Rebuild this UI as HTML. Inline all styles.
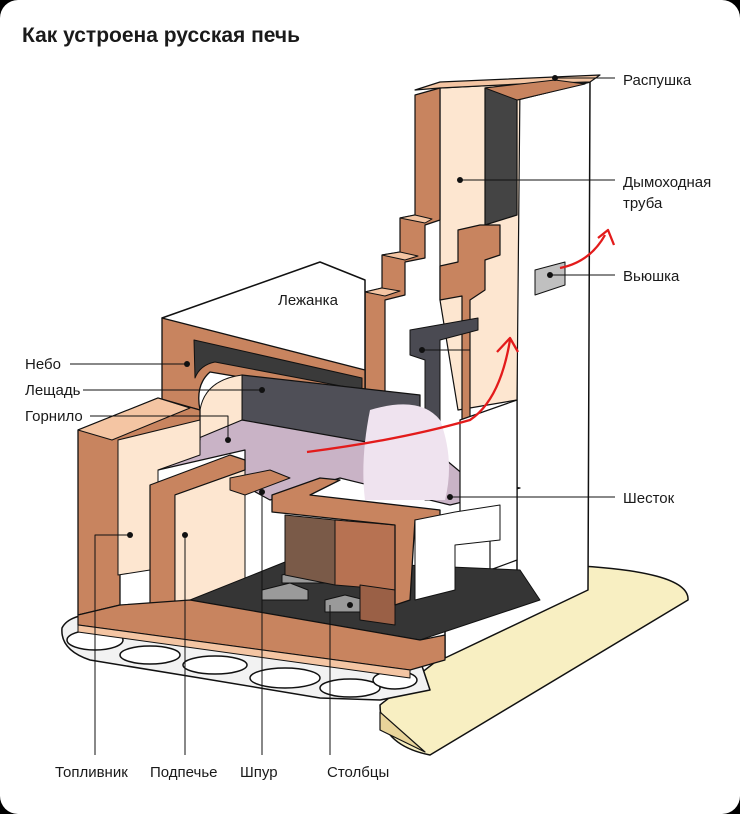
<!DOCTYPE html>
<html><head><meta charset="utf-8"><style>
html,body{margin:0;padding:0;background:#000;}
.card{position:absolute;left:0;top:0;width:740px;height:814px;background:#fff;border-radius:18px;overflow:hidden}
svg text{font-family:"Liberation Sans",sans-serif;font-size:15px;fill:#1a1a1a}
</style></head><body><div class="card">
<svg width="740" height="814" viewBox="0 0 740 814" stroke-linejoin="round">
<text x="22" y="42" style="font-size:21px;font-weight:bold">Как устроена русская печь</text>
<!-- base platform -->
<path d="M380 705 L560 565 Q690 570 688 600 L430 755 Q380 745 380 705 Z" fill="#f8efc2" stroke="#111" stroke-width="1.5"/>
<path d="M380 712 L380 730 L425 752 Z" fill="#e8d49a" stroke="#111" stroke-width="1.2"/>
<!-- stones -->
<g fill="#fff" stroke="#111" stroke-width="1.5">
<path d="M62 628 Q70 612 110 614 L300 650 L420 660 L430 690 L380 700 L320 698 L200 678 L90 660 Q60 650 62 628Z" fill="#f2f2f2"/>
<ellipse cx="95" cy="640" rx="28" ry="10"/><ellipse cx="150" cy="655" rx="30" ry="9"/>
<ellipse cx="215" cy="665" rx="32" ry="9"/><ellipse cx="285" cy="678" rx="35" ry="10"/>
<ellipse cx="350" cy="688" rx="30" ry="9"/><ellipse cx="395" cy="680" rx="22" ry="9"/>
</g>
<!-- right white side of stove -->
<path d="M517 100 L590 82 L588 590 L445 658 L445 620 L517 590 Z" fill="#fff" stroke="#111" stroke-width="1.5"/>
<!-- chimney cream interior -->
<path d="M440 88 L520 84 L517 400 L458 410 L440 300 Z" fill="#fde6d0" stroke="#111" stroke-width="1.2"/>
<path d="M485 88 L555 80 L590 82 L517 100 L517 215 L485 225 Z" fill="#444" stroke="#111" stroke-width="1.2"/>
<path d="M415 90 L440 82 L600 75 L590 82 L520 84 L440 88 Z" fill="#f4c5a3" stroke="#111" stroke-width="1.2"/>
<path d="M485 88 L555 80 L585 84 L517 100 Z" fill="#c8845f" stroke="#111"/>
<!-- outer brown staircase -->
<path d="M415 95 L440 88 L440 220 L425 225 L425 258 L405 262 L405 295 L385 300 L385 395 L365 390 L365 292 L382 288 L382 255 L400 252 L400 218 L415 215 Z" fill="#c8845f" stroke="#111" stroke-width="1.2"/>
<path d="M365 292 L382 288 L400 291 L385 296 Z M382 255 L400 252 L418 256 L405 260 Z M400 218 L415 215 L432 219 L425 223 Z" fill="#f4c5a3" stroke="#111"/>
<!-- inner brown staircase -->
<path d="M480 225 L458 230 L458 262 L440 266 L440 300 L462 296 L462 420 L470 418 L470 300 L485 290 L485 260 L500 255 L500 225 Z" fill="#c8845f" stroke="#111" stroke-width="1.2"/>
<!-- lezhanka top -->
<path d="M162 318 L320 262 L365 280 L365 390 L200 345 Z" fill="#fff" stroke="#111" stroke-width="1.5"/>
<text x="278" y="305">Лежанка</text>
<!-- nebo block -->
<path d="M162 318 L365 370 L365 398 L210 372 Q195 385 200 410 L162 400 Z" fill="#c8845f" stroke="#111" stroke-width="1.3"/>
<path d="M194 340 L362 378 L362 390 L215 362 Q200 365 195 378 Z" fill="#3a3a3a" stroke="#111"/>
<!-- back dark wall -->
<path d="M242 375 L420 395 L420 455 L242 420 Z" fill="#4f4f57" stroke="#111" stroke-width="1.2"/>
<path d="M410 330 L478 318 L478 330 L440 340 L440 500 L425 500 L425 360 L410 355 Z" fill="#4a4a52" stroke="#111"/>
<!-- arch cream left -->
<path d="M200 410 Q205 380 242 375 L242 425 L200 440 Z" fill="#fde6d0" stroke="#111"/>
<!-- hearth floor lilac -->
<path d="M158 455 L242 420 L440 455 L470 480 L520 488 L450 505 L340 478 L270 500 L230 478 L245 470 L245 450 L158 470 Z" fill="#c9b3c6" stroke="#111" stroke-width="1.2"/>
<path d="M370 410 Q420 395 440 420 Q455 460 445 500 L365 500 Q360 460 370 410Z" fill="#efe3ef"/>
<!-- right wall white pieces -->
<path d="M460 420 L517 400 L517 560 L490 570 L490 520 L460 520 Z" fill="#fff" stroke="#111" stroke-width="1.2"/>
<!-- left lower block -->
<path d="M78 430 L158 398 L200 410 L200 440 L120 470 L120 605 L78 615 Z" fill="#c8845f" stroke="#111" stroke-width="1.3"/>
<path d="M78 430 L158 398 L190 408 L112 440 Z" fill="#f4c5a3" stroke="#111"/>
<path d="M118 440 L200 420 L200 455 L158 470 L158 520 L150 520 L150 570 L118 575 Z" fill="#fde6d0" stroke="#111"/>
<!-- podpeche -->
<path d="M150 485 L230 455 L245 460 L245 470 L175 495 L175 610 L150 605 Z" fill="#c8845f" stroke="#111" stroke-width="1.2"/>
<path d="M175 495 L245 470 L245 585 L175 610 Z" fill="#fde6d0" stroke="#111"/>
<!-- floor dark -->
<path d="M190 600 L290 560 L520 570 L540 600 L420 640 Z" fill="#353535" stroke="#111"/>
<g fill="#9a9a9a" stroke="#111"><path d="M282 575 L310 568 L330 575 L330 583 L282 583Z"/><path d="M262 590 L290 583 L308 590 L308 600 L262 600Z"/><path d="M325 600 L345 595 L365 600 L365 612 L325 612Z"/></g>
<!-- columns -->
<path d="M285 515 L335 520 L335 585 L285 575Z" fill="#7a5a48" stroke="#111"/>
<path d="M335 520 L395 525 L395 590 L335 585Z" fill="#b77252" stroke="#111"/>
<path d="M360 585 L395 590 L395 625 L360 620Z" fill="#9a6046" stroke="#111"/>
<!-- shestok front slab -->
<path d="M272 495 L320 478 L340 480 L310 495 L440 510 L440 530 L415 520 L410 600 L395 605 L395 525 L272 512 Z" fill="#c8845f" stroke="#111" stroke-width="1.3"/>
<path d="M415 520 L455 512 L500 505 L500 540 L455 545 L455 590 L415 600 Z" fill="#fff" stroke="#111"/>
<path d="M230 478 L270 470 L290 478 L245 495 L230 490Z" fill="#c8845f" stroke="#111"/>
<!-- bottom brown rim -->
<path d="M78 615 L120 605 L190 600 L420 640 L445 635 L445 660 L410 670 L78 625 Z" fill="#c8845f" stroke="#111" stroke-width="1.2"/>
<path d="M78 625 L410 670 L410 678 L78 632Z" fill="#f4c5a3" stroke="#111"/>
<!-- vyushka -->
<path d="M535 270 L565 262 L565 285 L535 295 Z" fill="#c0c0c0" stroke="#111"/>
<!-- red arrows -->
<g fill="none" stroke="#e31b1b" stroke-width="2.3">
<path d="M307 452 Q400 440 470 420 Q500 400 510 340"/><path d="M497 352 L510 338 L518 352"/>
<path d="M560 268 Q590 262 605 235"/><path d="M598 238 L608 230 L614 245"/>
</g>
<!-- leader lines -->
<g stroke="#111" stroke-width="1" fill="none">
<path d="M555 78 L615 78"/><path d="M460 180 L615 180"/><path d="M550 275 L615 275"/>
<path d="M70 364 L187 364"/><path d="M83 390 L262 390"/><path d="M90 416 L228 416 L228 440"/>
<path d="M450 497 L615 497"/><path d="M422 350 L470 350"/>
<path d="M130 535 L95 535 L95 755"/><path d="M185 535 L185 755"/><path d="M262 492 L262 755"/><path d="M330 605 L330 755"/>
</g>
<g fill="#111"><circle cx="555" cy="78" r="3"/><circle cx="460" cy="180" r="3"/><circle cx="550" cy="275" r="3"/>
<circle cx="187" cy="364" r="3"/><circle cx="262" cy="390" r="3"/><circle cx="228" cy="440" r="3"/><circle cx="450" cy="497" r="3"/>
<circle cx="130" cy="535" r="3"/><circle cx="185" cy="535" r="3"/><circle cx="262" cy="492" r="3"/><circle cx="350" cy="605" r="3"/><circle cx="422" cy="350" r="3"/></g>
<text x="623" y="85">Распушка</text><text x="623" y="187">Дымоходная</text><text x="623" y="208">труба</text>
<text x="623" y="281">Вьюшка</text><text x="623" y="503">Шесток</text>
<text x="25" y="369">Небо</text><text x="25" y="395">Лещадь</text><text x="25" y="421">Горнило</text>
<text x="55" y="777">Топливник</text><text x="150" y="777">Подпечье</text><text x="240" y="777">Шпур</text><text x="327" y="777">Столбцы</text>
</svg></div></body></html>
